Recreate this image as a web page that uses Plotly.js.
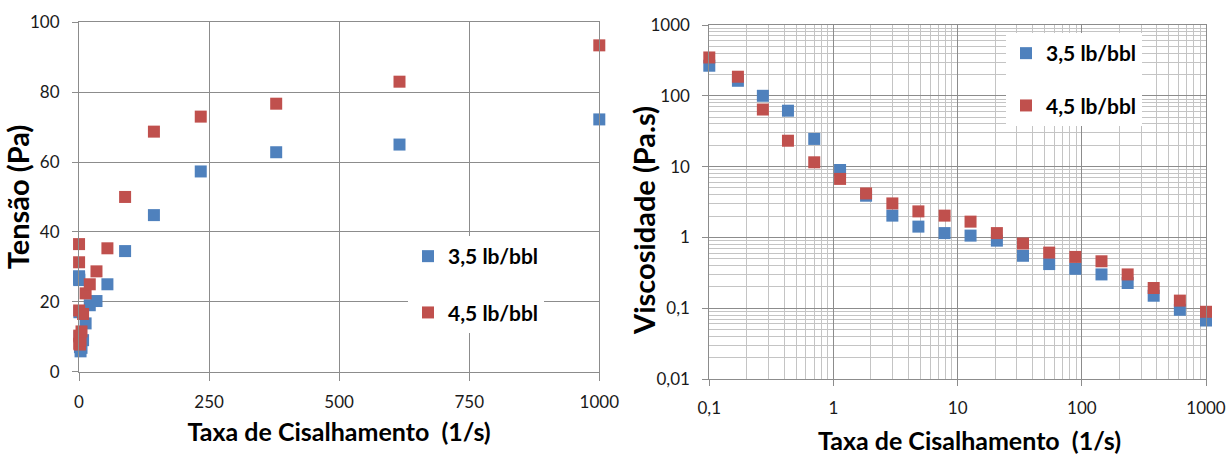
<!DOCTYPE html>
<html>
<head>
<meta charset="utf-8">
<script src="https://cdn.plot.ly/plotly-3.0.1.min.js"></script>
<style>
  html, body { margin: 0; padding: 0; background: #ffffff; }
  #chart { width: 1230px; height: 454px; }
</style>
</head>
<body>
<div id="chart"></div>
<script>
// Shear rate (1/s), shared by both panels
const shearRate = [0.1, 0.17, 0.27, 0.43, 0.7, 1.13, 1.83, 2.98, 4.83, 7.85, 12.7, 20.7, 33.6, 54.6, 88.6, 144, 234, 379, 616, 1000];

// Left panel: shear stress (Pa)
const tension35 = [27.3, 27, 26.4, 26.2, 17, 10, 7, 5.8, 6.8, 9, 13.8, 19, 20.2, 25, 34.5, 44.8, 57.3, 62.8, 65, 72.2];
const tension45 = [36.5, 31.3, 17.5, 10.3, 8, 7.8, 7.8, 9, 11.5, 16.5, 22.4, 25, 28.7, 35.3, 50, 68.7, 73, 76.7, 83, 93.4];

// Right panel: viscosity (Pa.s)
const visc35 = [266, 163, 100, 61.6, 24.6, 8.95, 3.88, 2.03, 1.42, 1.15, 1.06, 0.90, 0.55, 0.42, 0.36, 0.30, 0.227, 0.150, 0.095, 0.067];
const visc45 = [348, 186, 64, 23.2, 11.5, 6.7, 4.18, 3.02, 2.33, 2.03, 1.67, 1.15, 0.82, 0.61, 0.53, 0.46, 0.30, 0.193, 0.128, 0.089];

const seriesNames = ['3,5 lb/bbl', '4,5 lb/bbl'];
const seriesColors = ['#4F81BD', '#C0504D'];

// Titles
const xTitle = 'Taxa de Cisalhamento  (1/s)';
const yTitleLeft = 'Tensão (Pa)';
const yTitleRight = 'Viscosidade (Pa.s)';

// Tick labels
const linTickX = [0, 250, 500, 750, 1000];
const linTickXText = ['0', '250', '500', '750', '1000'];
const linTickY = [0, 20, 40, 60, 80, 100];
const linTickYText = ['0', '20', '40', '60', '80', '100'];
const logTickX = [0.1, 1, 10, 100, 1000];
const logTickXText = ['0,1', '1', '10', '100', '1000'];
const logTickY = [0.01, 0.1, 1, 10, 100, 1000];
const logTickYText = ['0,01', '0,1', '1', '10', '100', '1000'];

const FONT = 'Lato, "Open Sans", sans-serif';
const GRID = '#8c8c8c';
const MINOR = '#c4c4c4';

function mk(x, y, i, xa, ya, leg) {
  return {
    type: 'scatter', mode: 'markers',
    x: x, y: y,
    name: seriesNames[i],
    legendgroup: leg + i,
    xaxis: xa, yaxis: ya, legend: leg,
    cliponaxis: false,
    marker: { symbol: 'square', size: 12, color: seriesColors[i] },
    hoverinfo: 'x+y+name'
  };
}

const data = [
  mk(shearRate, tension35, 0, 'x', 'y', 'legend'),
  mk(shearRate, tension45, 1, 'x', 'y', 'legend'),
  mk(shearRate, visc35, 0, 'x2', 'y2', 'legend2'),
  mk(shearRate, visc45, 1, 'x2', 'y2', 'legend2')
];

const tickFont = { family: FONT, size: 17, color: '#1a1a1a' };
const xTitleFont = { family: FONT, size: 25, color: '#000000', weight: 'bold' };
const yTitleFont = { family: FONT, size: 29, color: '#000000', weight: 'bold' };

const W = 1230, H = 454, ML = 79, MR = 24, MT = 22, MB = 75;
const PW = W - ML - MR, PH = H - MT - MB;
const px = v => (v - ML) / PW;
const py = v => (H - MB - v) / PH;

const layout = {
  width: W, height: H,
  margin: { l: ML, r: MR, t: MT, b: MB, pad: 0 },
  paper_bgcolor: '#ffffff', plot_bgcolor: '#ffffff',
  showlegend: true,
  xaxis: {
    domain: [0, px(599.3)], range: [0, 1000], anchor: 'y',
    tickmode: 'array', tickvals: linTickX, ticktext: linTickXText,
    showgrid: true, gridcolor: GRID, gridwidth: 1, zeroline: false,
    showline: true, mirror: true, linecolor: GRID, linewidth: 1,
    ticks: 'outside', ticklen: 8, tickcolor: GRID, tickfont: tickFont,
    ticklabelstandoff: 7,
    title: { text: xTitle, font: xTitleFont, standoff: 12 },
    automargin: false, fixedrange: true
  },
  yaxis: {
    domain: [py(371.6), py(22.3)], range: [0, 100], anchor: 'x',
    tickmode: 'array', tickvals: linTickY, ticktext: linTickYText,
    showgrid: true, gridcolor: GRID, gridwidth: 1, zeroline: false,
    showline: true, mirror: true, linecolor: GRID, linewidth: 1,
    ticks: 'outside', ticklen: 6, tickcolor: GRID, tickfont: tickFont,
    ticklabelstandoff: 9,
    title: { text: yTitleLeft, font: yTitleFont, standoff: 8 },
    automargin: false, fixedrange: true
  },
  xaxis2: {
    domain: [px(709.3), 1], type: 'log', range: [-1, 3], anchor: 'y2',
    tickmode: 'array', tickvals: logTickX, ticktext: logTickXText,
    showgrid: true, gridcolor: GRID, gridwidth: 1, zeroline: false,
    minor: { dtick: 'D1', showgrid: true, gridcolor: MINOR, gridwidth: 1, ticks: '' },
    showline: true, mirror: true, linecolor: GRID, linewidth: 1,
    ticks: 'outside', ticklen: 6, tickcolor: GRID, tickfont: tickFont,
    ticklabelstandoff: 8,
    automargin: false, fixedrange: true
  },
  yaxis2: {
    domain: [0, py(25)], type: 'log', range: [-2, 3], anchor: 'x2',
    tickmode: 'array', tickvals: logTickY, ticktext: logTickYText,
    showgrid: true, gridcolor: GRID, gridwidth: 1, zeroline: false,
    minor: { dtick: 'D1', showgrid: true, gridcolor: MINOR, gridwidth: 1, ticks: '' },
    showline: true, mirror: true, linecolor: GRID, linewidth: 1,
    ticks: 'outside', ticklen: 6, tickcolor: GRID, tickfont: tickFont,
    ticklabelstandoff: 9,
    automargin: false, fixedrange: true
  },
  annotations: [
    { text: yTitleRight, xref: 'paper', yref: 'paper', x: px(643), y: py(221),
      xanchor: 'center', yanchor: 'middle', textangle: -90, showarrow: false,
      font: yTitleFont },
    { text: xTitle, xref: 'paper', yref: 'paper', x: px(969), y: py(440),
      xanchor: 'center', yanchor: 'middle', showarrow: false,
      font: xTitleFont }
  ],
  legend: {
    x: px(408), y: py(236), xanchor: 'left', yanchor: 'top',
    bgcolor: '#ffffff', borderwidth: 0,
    font: { family: FONT, size: 21, color: '#000000', weight: 'bold' },
    tracegroupgap: 26, itemclick: false, itemdoubleclick: false
  },
  legend2: {
    x: px(1006), y: py(33), xanchor: 'left', yanchor: 'top',
    bgcolor: '#ffffff', borderwidth: 0,
    font: { family: FONT, size: 21, color: '#000000', weight: 'bold' },
    tracegroupgap: 22, itemclick: false, itemdoubleclick: false
  }
};

Plotly.newPlot('chart', data, layout, { displayModeBar: false, staticPlot: true });
</script>
</body>
</html>
